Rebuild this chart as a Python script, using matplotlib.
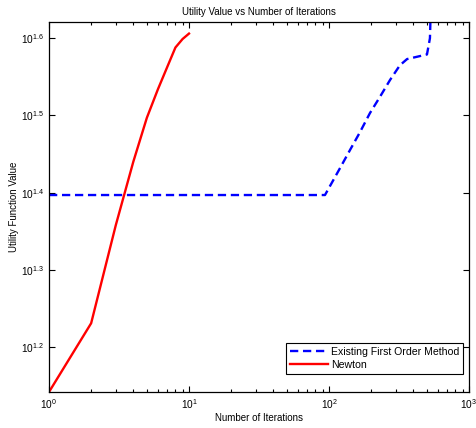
import numpy as np
import matplotlib
matplotlib.use("Agg")
import matplotlib.pyplot as plt
from matplotlib.ticker import FixedLocator, FixedFormatter, LogLocator, NullFormatter

plt.rcParams['font.family'] = ['Liberation Sans', 'DejaVu Sans']
plt.rcParams['mathtext.fontset'] = 'custom'
plt.rcParams['mathtext.rm'] = 'Liberation Sans'
plt.rcParams['mathtext.it'] = 'Liberation Sans'

# Newton: one point per iteration (log10 of utility)
newton_iter = [1, 2, 3, 4, 5, 6, 7, 8, 9, 10]
newton_log = [1.142, 1.231, 1.358, 1.440, 1.497, 1.534, 1.563, 1.588, 1.599, 1.606]

# Existing first order method (log10 of utility)
first_iter = [1, 93.6, 120, 141, 166, 196, 231, 273, 321, 361, 501, 526, 530]
first_log = [1.397, 1.397, 1.432, 1.455, 1.478, 1.503, 1.524, 1.546, 1.565, 1.573,
             1.579, 1.600, 1.621]

newton_val = 10 ** np.array(newton_log)
first_val = 10 ** np.array(first_log)

fig = plt.figure(figsize=(4.76, 4.28), dpi=100)
ax = fig.add_axes([49 / 476, 36 / 428, 420 / 476, 370 / 428])

ax.plot(first_iter, first_val, color='#0000ff', lw=1.7, ls=(0, (3.5, 2)),
        label='Existing First Order Method')
ax.plot(newton_iter, newton_val, color='#ff0000', lw=1.7, label='Newton')

ax.set_xscale('log')
ax.set_yscale('log')
ax.set_xlim(1, 1000)
ax.set_ylim(newton_val.min(), first_val.max())

ylog_ticks = [1.2, 1.3, 1.4, 1.5, 1.6]
ax.yaxis.set_major_locator(FixedLocator([10 ** t for t in ylog_ticks]))
ax.yaxis.set_major_formatter(FixedFormatter([r'$10^{%.1f}$' % t for t in ylog_ticks]))
ax.yaxis.set_minor_locator(FixedLocator([]))
ax.yaxis.set_minor_formatter(NullFormatter())
ax.xaxis.set_major_locator(FixedLocator([1, 10, 100, 1000]))
ax.xaxis.set_major_formatter(FixedFormatter([r'$10^{0}$', r'$10^{1}$', r'$10^{2}$', r'$10^{3}$']))
ax.xaxis.set_minor_locator(LogLocator(base=10, subs=np.arange(2, 10)))
ax.xaxis.set_minor_formatter(NullFormatter())

ax.tick_params(which='both', direction='in', top=True, right=True, labelsize=7.3,
               width=0.8)
ax.tick_params(which='major', length=4)
ax.tick_params(which='minor', length=2)
for s in ax.spines.values():
    s.set_linewidth(0.9)

ax.set_title('Utility Value vs Number of Iterations', fontsize=7, pad=5)
ax.set_xlabel('Number of Iterations', fontsize=7, labelpad=2)
ax.set_ylabel('Utility Function Value', fontsize=7, labelpad=1.5)

leg = ax.legend(loc='lower right', bbox_to_anchor=(0.986, 0.049), fontsize=7.6,
                fancybox=False, framealpha=1, edgecolor='black', borderpad=0.35,
                handlelength=3.6, handletextpad=0.3, labelspacing=0.3,
                borderaxespad=0)
leg.get_frame().set_linewidth(0.8)

fig.savefig('out.png', dpi=100)
